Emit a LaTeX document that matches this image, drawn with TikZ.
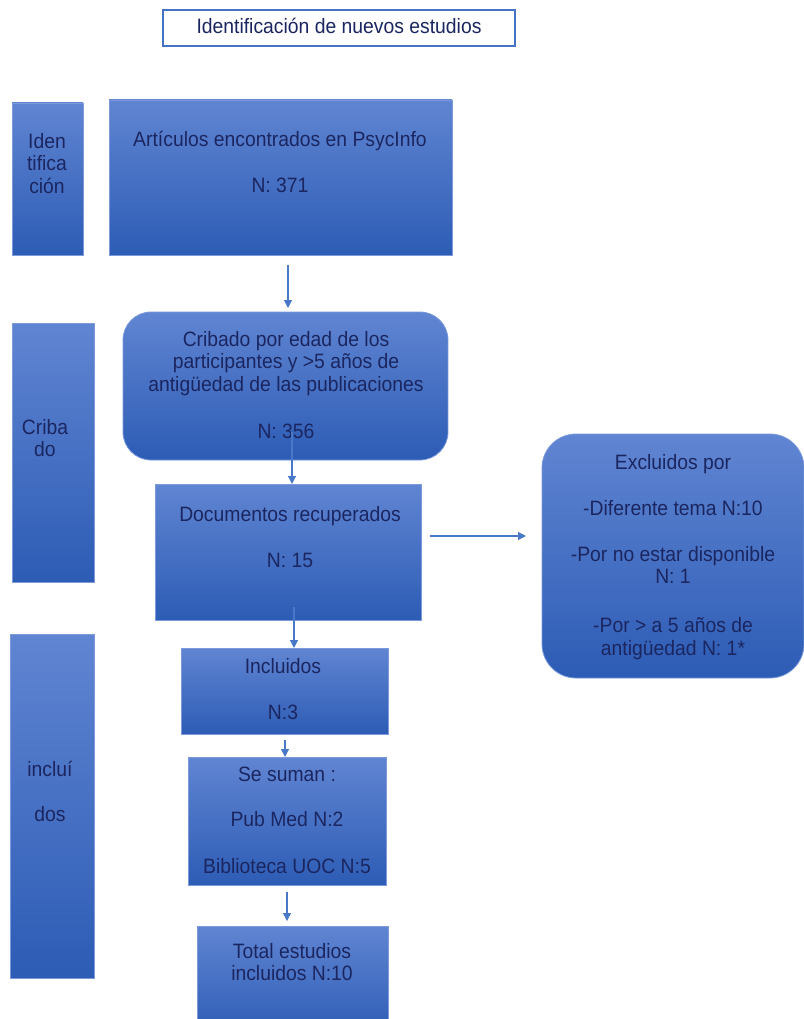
\documentclass[tikz,border=0pt]{standalone}
\usepackage{fontspec}
\setmainfont[FakeStretch=0.93]{Liberation Sans}
\usetikzlibrary{arrows.meta}
\definecolor{boxtop}{HTML}{6085D2}
\definecolor{boxbot}{HTML}{2D5CB5}
\definecolor{boxline}{HTML}{7B99DB}
\definecolor{txtc}{HTML}{1B2660}
\definecolor{arrc}{HTML}{4A78C9}
\definecolor{titleline}{HTML}{4472C4}
\begin{document}
\begin{tikzpicture}[x=1pt,y=-1pt,
  box/.style={draw=boxline, line width=0.8pt, top color=boxtop, bottom color=boxbot, inner sep=0pt, outer sep=0pt},
  rbox/.style={box, rounded corners=#1},
  txt/.style={text=txtc, font=\fontsize{20.8}{22.5}\selectfont, align=center, inner sep=0pt, anchor=north},
  arr/.style={draw=arrc, line width=1.1pt, -{Triangle[width=8pt,length=8pt]}}]
\useasboundingbox (0,0) rectangle (803,1019);
% boxes
\node[draw=titleline, line width=1.2pt, fill=white, minimum width=352pt, minimum height=36pt, inner sep=0pt] (title) at (339,28) {};
\node[box, minimum width=71pt, minimum height=152pt] (ident) at (47.5,179) {};
\node[box, minimum width=343pt, minimum height=155pt] (art) at (280.5,177.5) {};
\node[rbox=28pt, minimum width=325pt, minimum height=148pt] (crib) at (285.5,386) {};
\node[box, minimum width=82pt, minimum height=259pt] (criba) at (53,452.5) {};
\node[box, minimum width=266pt, minimum height=136pt] (doc) at (288,552) {};
\node[rbox=34pt, minimum width=262pt, minimum height=244pt] (excl) at (673,556) {};
\node[box, minimum width=84pt, minimum height=344pt] (inclL) at (52,806) {};
\node[box, minimum width=207pt, minimum height=86pt] (incl) at (284.5,691) {};
\node[box, minimum width=198pt, minimum height=128pt] (suman) at (287,821) {};
\node[box, minimum width=191pt, minimum height=110pt] (total) at (292.5,981) {};
% texts
\node[txt] (ttitle) at (339,17) {\rule{0pt}{16pt}Identificación de nuevos estudios};
\node[txt] (tident) at (47,132) {\rule{0pt}{16pt}Iden\\tifica\\ción};
\node[txt] (tart) at (280,130) {\rule{0pt}{16pt}Artículos encontrados en PsycInfo\\[23.5pt]N: 371};
\node[txt] (tcrib) at (286,330) {\rule{0pt}{16pt}Cribado por edad de los\\participantes y >5 años de\\antigüedad de las publicaciones\\[24.5pt]N: 356};
\node[txt] (tcriba) at (45,418) {\rule{0pt}{16pt}Criba\\do};
\node[txt] (tdoc) at (290,505) {\rule{0pt}{16pt}Documentos recuperados\\[23.5pt]N: 15};
\node[txt] (texcl) at (673,453) {\rule{0pt}{16pt}Excluidos por\\[23.5pt]-Diferente tema N:10\\[23.5pt]-Por no estar disponible\\N: 1\\[26.5pt]-Por > a 5 años de\\antigüedad N: 1*};
\node[txt] (tinclL) at (50,760) {\rule{0pt}{16pt}incluí\\[22.5pt]dos};
\node[txt] (tincl) at (283,657) {\rule{0pt}{16pt}Incluidos\\[23.5pt]N:3};
\node[txt] (tsuman) at (287,765) {\rule{0pt}{16pt}Se suman :\\[22.5pt]Pub Med N:2\\[24.5pt]Biblioteca UOC N:5};
\node[txt] (ttotal) at (292,942) {\rule{0pt}{16pt}Total estudios\\incluidos N:10};
% connectors
\coordinate (a1s) at (288,265);
\coordinate (a2s) at (292,432);
\coordinate (a3s) at (430,536);
\coordinate (a3e) at (526,536);
\coordinate (a4s) at (294,607);
\coordinate (a5s) at (285,740);
\coordinate (a6s) at (287,892);
\draw[arr, shorten >=4pt] (a1s) -- (crib.north -| a1s);
\draw[arr] (a2s) -- (doc.north -| a2s);
\draw[arr] (a3s) -- (a3e);
\draw[arr] (a4s) -- (incl.north -| a4s);
\draw[arr] (a5s) -- (suman.north -| a5s);
\draw[arr, shorten >=5pt] (a6s) -- (total.north -| a6s);
\end{tikzpicture}
\end{document}
